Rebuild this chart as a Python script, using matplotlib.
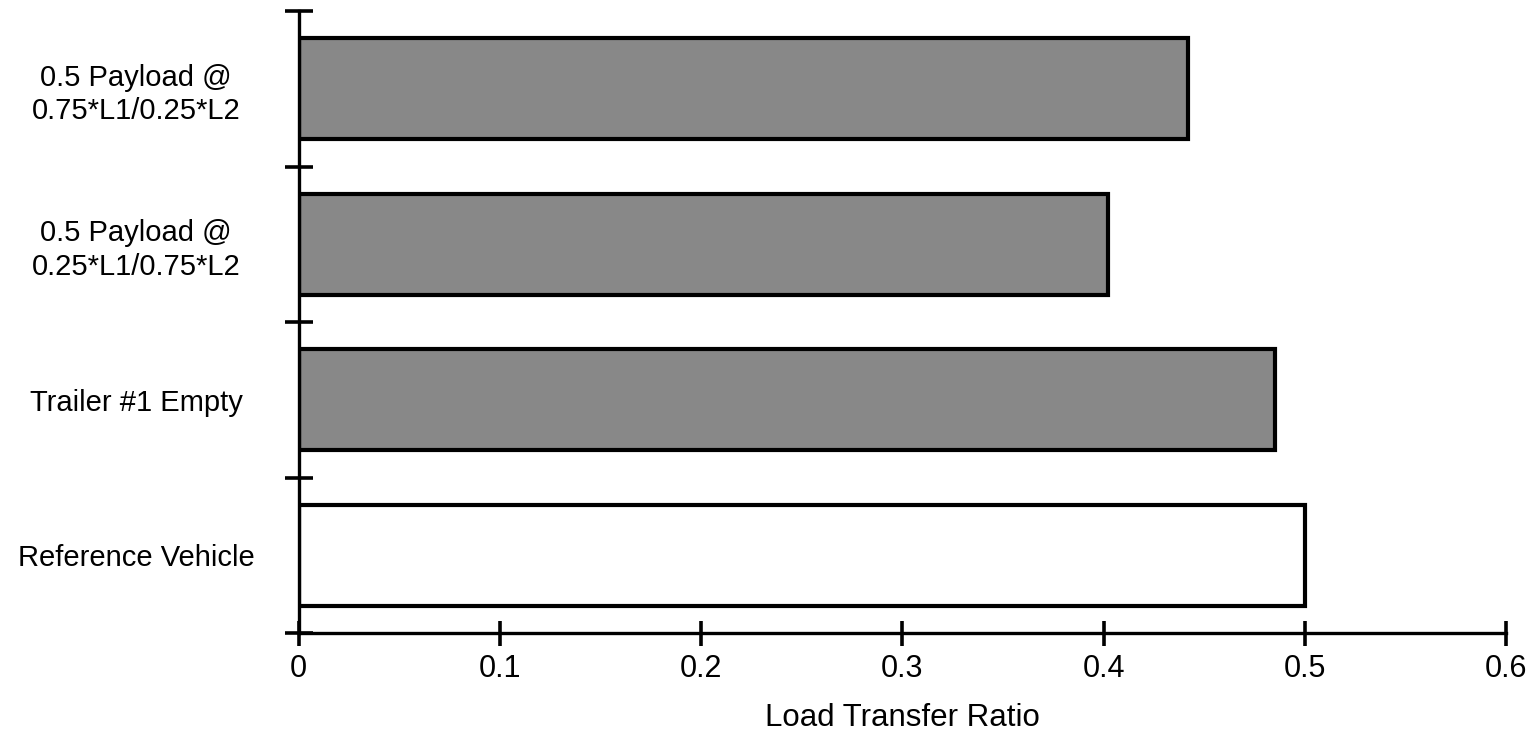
import matplotlib
matplotlib.use("Agg")
import matplotlib.pyplot as plt
import numpy as np

categories = ["Reference Vehicle", "Trailer #1 Empty",
              "0.5 Payload @\n0.25*L1/0.75*L2", "0.5 Payload @\n0.75*L1/0.25*L2"]
values = [0.50, 0.485, 0.402, 0.442]
xticks = [0, 0.1, 0.2, 0.3, 0.4, 0.5, 0.6]
xtick_labels = ["0", "0.1", "0.2", "0.3", "0.4", "0.5", "0.6"]
facecolors = ["white", "#888888", "#888888", "#888888"]

plt.rcParams['font.family'] = ['Liberation Sans', 'DejaVu Sans']

fig = plt.figure(figsize=(15.32, 7.44), dpi=100)
ax = fig.add_axes([0.195, 0.149, 0.788, 0.836])

pos = np.arange(len(categories))
ax.barh(pos, values, height=0.65, color=facecolors, edgecolor="black",
        linewidth=3.0, zorder=2)

ax.set_xlim(0, 0.6)
ax.set_ylim(-0.5, len(categories) - 0.5)

for s in ["top", "right"]:
    ax.spines[s].set_visible(False)
for s in ["left", "bottom"]:
    ax.spines[s].set_linewidth(2.4)

ax.set_xticks(xticks)
ax.set_xticklabels(xtick_labels, fontsize=22)
ax.tick_params(axis="x", direction="inout", length=18, width=2.6, pad=6)

ax.set_yticks(pos)
ax.set_yticklabels(categories, fontsize=21, ha="center", linespacing=1.25)
ax.tick_params(axis="y", which="major", length=0, pad=117)
ax.set_yticks(np.arange(-0.5, len(categories), 1.0), minor=True)
ax.tick_params(axis="y", which="minor", direction="inout", length=20, width=2.6)

ax.set_xlabel("Load Transfer Ratio", fontsize=22.5, labelpad=14)

fig.savefig("out.png", dpi=100)
